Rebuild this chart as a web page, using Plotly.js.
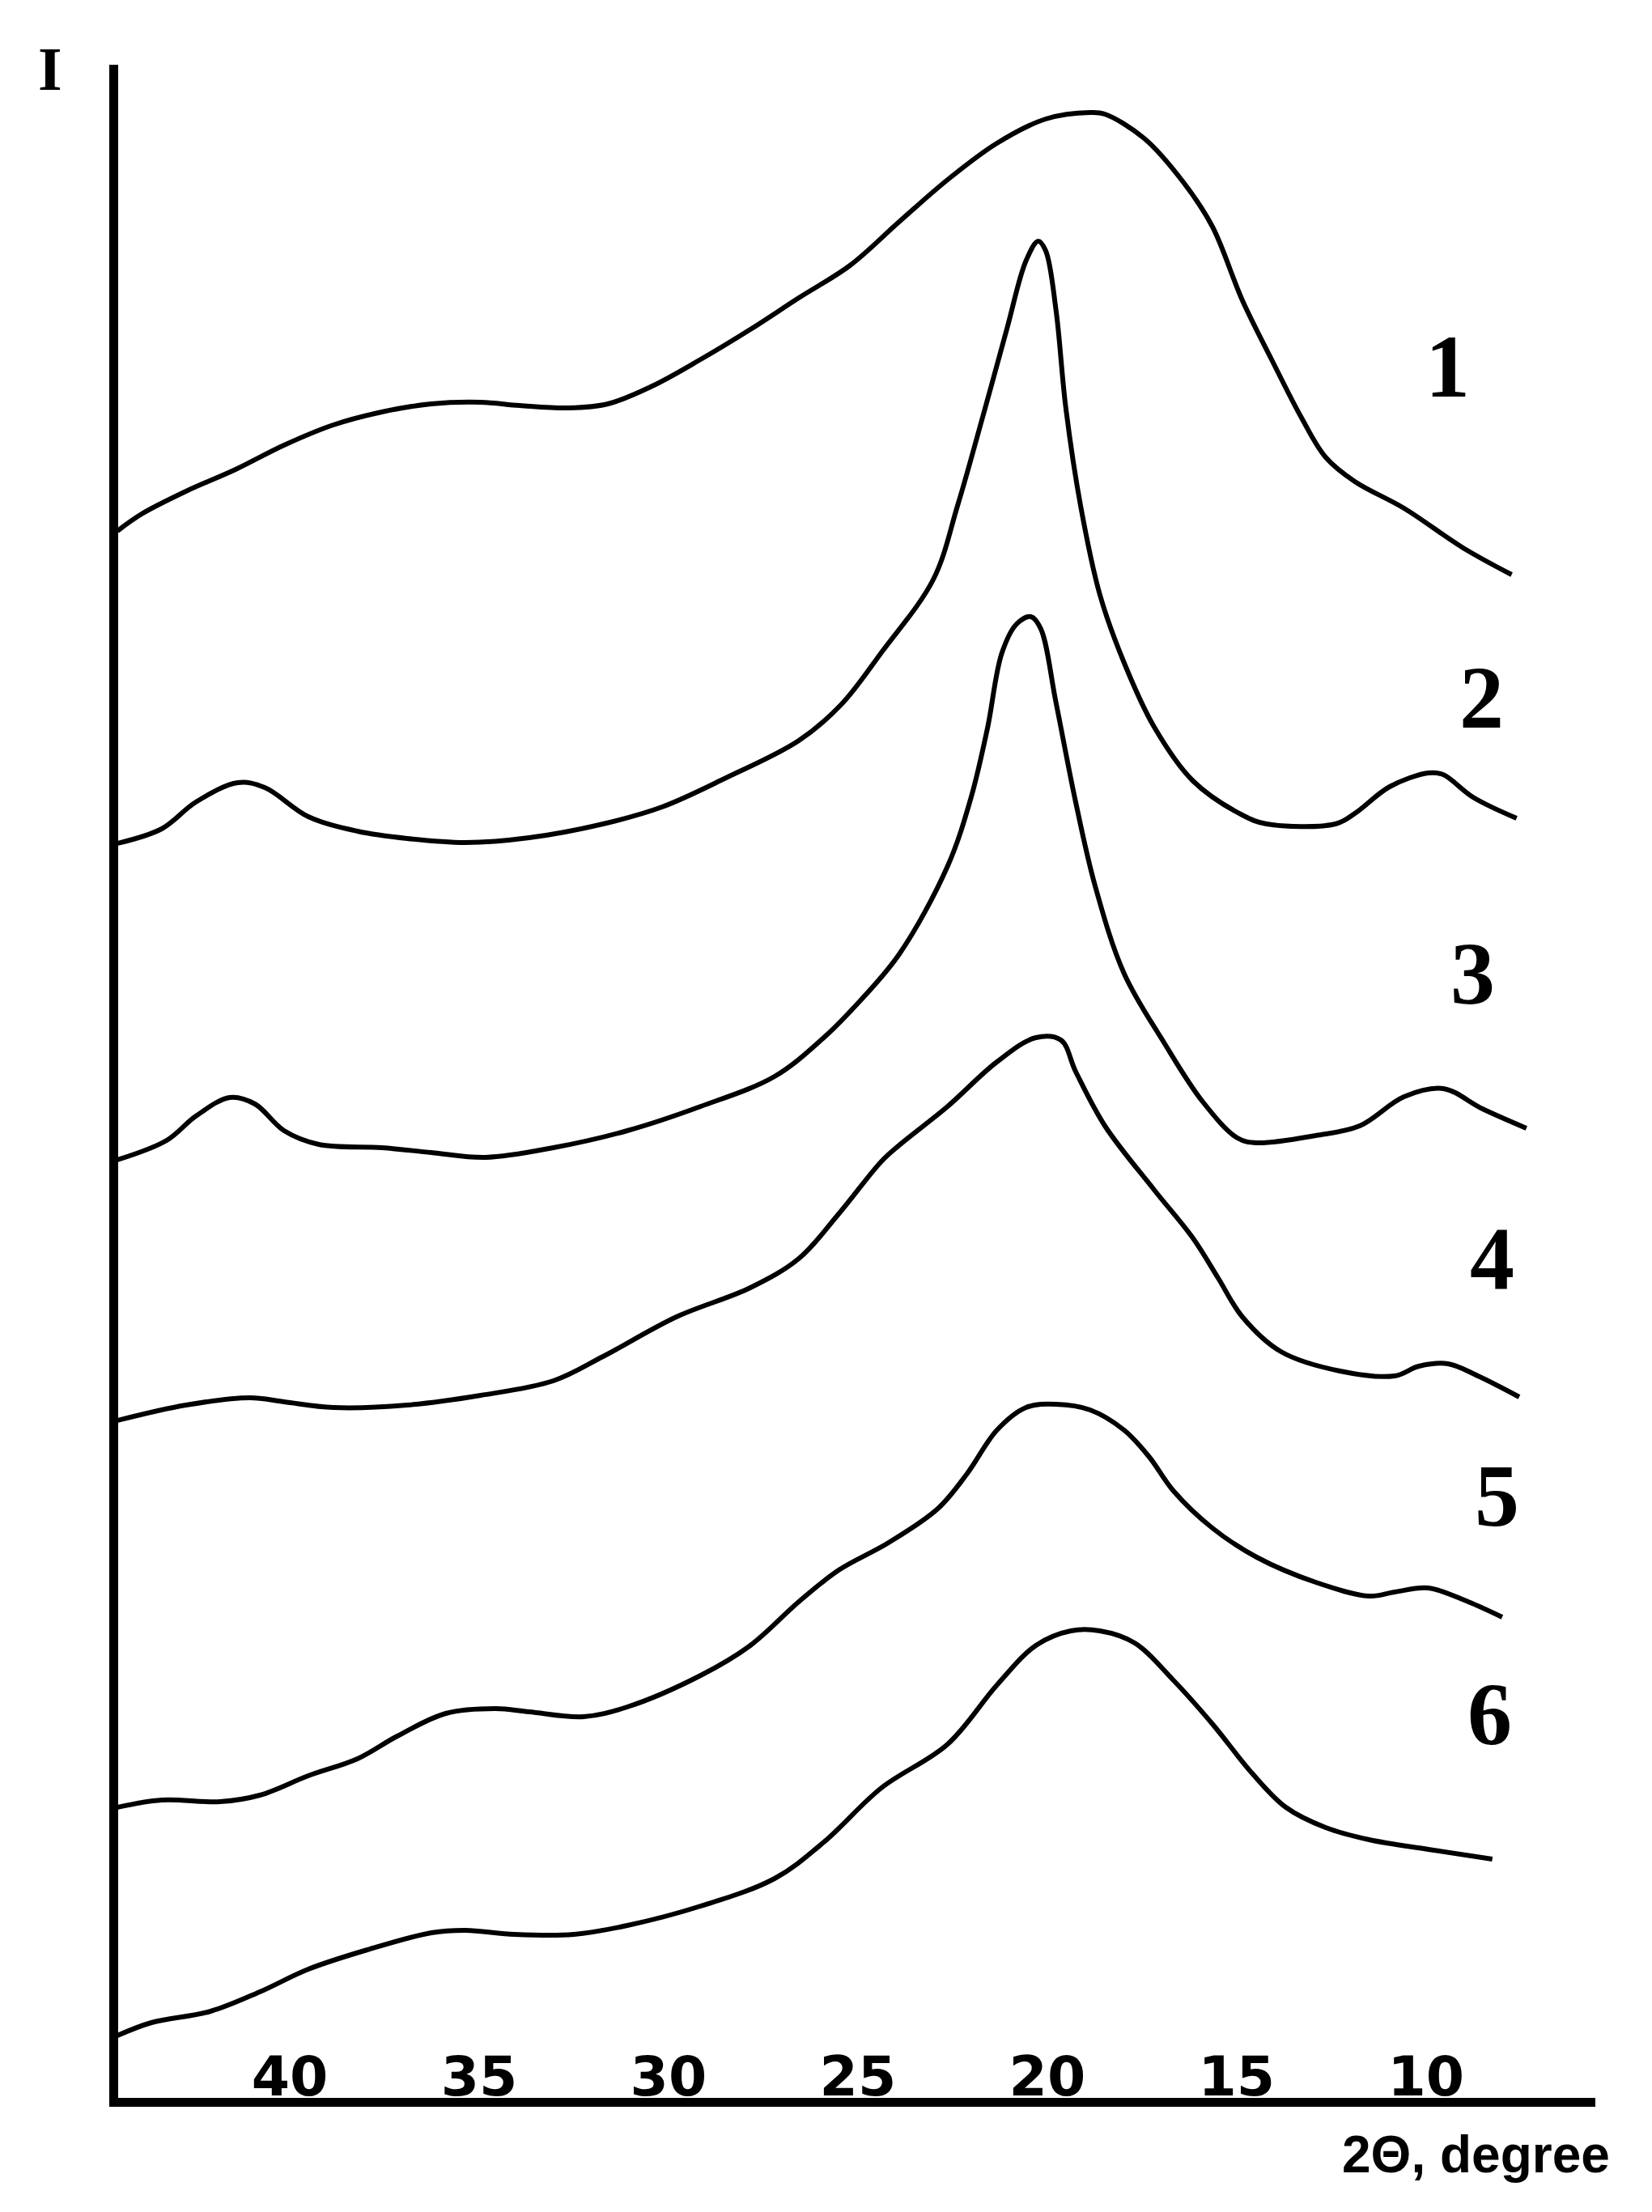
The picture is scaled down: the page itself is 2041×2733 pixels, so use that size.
<!DOCTYPE html>
<html>
<head>
<meta charset="utf-8">
<script src="https://cdn.plot.ly/plotly-3.0.1.min.js"></script>
<style>
  html, body { margin: 0; padding: 0; background: #fff; }
  #grafik { width: 2041px; height: 2733px; }
</style>
</head>
<body>
<div id="grafik"></div>
<script>
// 2theta (degree) and intensity (arbitrary units, curves stacked)
var sudut1 = [44.55, 43.91, 42.74, 41.43, 40.15, 38.85, 37.57, 36.26, 34.96, 33.93, 32.63, 31.60, 30.43, 29.15, 27.84, 26.56, 25.21, 23.91, 22.63, 21.33, 20.04, 18.87, 18.48, 17.44, 16.41, 15.64, 14.85, 14.08, 13.29, 12.65, 11.88, 10.58, 9.02, 7.74];
var kurva1 = [1941, 1962, 1990, 2017, 2047, 2072, 2088, 2098, 2100, 2096, 2093, 2098, 2120, 2153, 2190, 2229, 2269, 2323, 2375, 2420, 2450, 2458, 2456, 2426, 2372, 2317, 2226, 2153, 2081, 2032, 2002, 1969, 1920, 1887];

var sudut2 = [44.55, 43.38, 42.48, 41.37, 40.66, 39.51, 38.21, 36.90, 35.36, 33.68, 31.73, 30.17, 28.48, 26.56, 25.43, 24.36, 23.01, 22.37, 21.71, 21.07, 20.56, 20.24, 20.04, 19.77, 19.51, 19.12, 18.61, 17.97, 17.18, 16.15, 14.85, 14.21, 12.39, 11.88, 10.96, 9.94, 9.55, 8.76, 7.61];
var kurva2 = [1555, 1573, 1606, 1630, 1624, 1588, 1570, 1561, 1556, 1562, 1579, 1600, 1636, 1682, 1727, 1792, 1881, 1972, 2081, 2190, 2275, 2299, 2287, 2214, 2093, 1972, 1862, 1778, 1699, 1632, 1590, 1579, 1579, 1592, 1625, 1642, 1640, 1612, 1586];

var sudut3 = [44.55, 43.25, 42.48, 41.58, 40.92, 40.15, 39.23, 37.57, 36.26, 34.83, 33.04, 31.09, 29.15, 27.20, 25.90, 25.11, 23.91, 22.63, 22.01, 21.58, 21.20, 20.81, 20.43, 20.17, 19.77, 19.25, 18.74, 17.97, 16.92, 15.90, 14.98, 14.47, 12.91, 11.75, 10.58, 9.55, 8.51, 7.35];
var kurva3 = [1164, 1188, 1218, 1241, 1233, 1200, 1183, 1179, 1173, 1167, 1179, 1200, 1230, 1267, 1315, 1352, 1418, 1527, 1612, 1697, 1790, 1826, 1835, 1820, 1729, 1606, 1503, 1394, 1309, 1236, 1191, 1185, 1194, 1206, 1242, 1252, 1227, 1203];

var sudut4 = [44.55, 42.74, 41.05, 40.15, 38.85, 36.90, 34.96, 33.04, 31.73, 29.79, 27.84, 26.56, 25.51, 24.38, 23.91, 22.63, 21.33, 20.30, 19.64, 19.25, 18.48, 17.18, 16.15, 15.49, 14.85, 13.83, 12.27, 10.83, 10.19, 9.42, 8.63, 7.54];
var kurva4 = [842, 861, 870, 865, 858, 861, 873, 891, 921, 970, 1006, 1042, 1097, 1162, 1182, 1230, 1285, 1315, 1312, 1273, 1206, 1127, 1067, 1018, 970, 927, 903, 897, 909, 912, 897, 871];

var sudut5 = [44.55, 43.38, 41.84, 40.79, 39.51, 38.21, 37.16, 35.88, 34.57, 33.68, 32.24, 31.09, 29.15, 27.84, 26.56, 25.51, 24.19, 22.89, 22.12, 21.33, 20.56, 19.77, 18.87, 17.97, 17.31, 16.67, 15.64, 14.47, 12.91, 11.50, 10.83, 9.94, 8.89, 7.99];
var kurva5 = [364, 373, 371, 379, 403, 424, 452, 480, 486, 482, 476, 488, 527, 564, 618, 657, 691, 733, 776, 830, 858, 862, 855, 830, 797, 755, 709, 673, 642, 625, 630, 635, 618, 599];

var sudut6 = [44.55, 43.65, 42.09, 40.79, 39.51, 37.95, 36.26, 35.36, 34.06, 32.50, 31.09, 29.15, 27.20, 25.90, 24.38, 22.63, 21.33, 20.30, 19.38, 18.61, 17.69, 16.67, 15.64, 14.59, 13.70, 12.65, 11.50, 9.94, 8.25];
var kurva6 = [82, 98, 112, 136, 164, 188, 209, 212, 207, 207, 218, 242, 276, 321, 388, 442, 515, 564, 582, 582, 567, 521, 467, 406, 364, 339, 324, 312, 300];

var namaKurva = ["1", "2", "3", "4", "5", "6"];
var tickSudut = [40, 35, 30, 25, 20, 15, 10];

var semuaSudut = [sudut1, sudut2, sudut3, sudut4, sudut5, sudut6];
var semuaKurva = [kurva1, kurva2, kurva3, kurva4, kurva5, kurva6];

var dataGaris = semuaKurva.map(function (item, index) {
  return {
    x: semuaSudut[index],
    y: item,
    type: "scatter",
    mode: "lines",
    name: namaKurva[index],
    line: { color: "#000", width: 6, shape: "spline", smoothing: 1 },
    hoverinfo: "none",
  };
});

// label posisi tiap kurva (di sebelah kanan)
var posisiLabel = [
  [9.42, 2144],
  [8.53, 1735],
  [8.76, 1394],
  [8.25, 1042],
  [8.12, 749],
  [8.31, 479],
];

var anotasi = namaKurva.map(function (teks, index) {
  return {
    x: posisiLabel[index][0],
    y: posisiLabel[index][1],
    text: teks,
    showarrow: false,
    xanchor: "center",
    yanchor: "middle",
    font: { family: "Liberation Serif, Times New Roman, serif", size: 110, color: "#000", weight: "bold" },
  };
});

anotasi.push({
  xref: "paper", yref: "paper",
  x: -0.046, y: 0.998,
  text: "I",
  showarrow: false,
  xanchor: "center", yanchor: "middle",
  font: { family: "Liberation Serif, Times New Roman, serif", size: 76, color: "#000", weight: "bold" },
});

anotasi.push({
  xref: "paper", yref: "paper",
  x: 1.011, y: -0.028,
  text: "2\u0398, degree",
  showarrow: false,
  xanchor: "right", yanchor: "middle",
  font: { family: "Liberation Sans, Arial, sans-serif", size: 64, color: "#000", weight: "bold" },
});

var tampilan = {
  width: 2041,
  height: 2733,
  margin: { l: 146, r: 70, t: 80, b: 141 },
  paper_bgcolor: "#fff",
  plot_bgcolor: "#fff",
  showlegend: false,
  xaxis: {
    range: [44.53, 5.53],
    showgrid: false,
    zeroline: false,
    showline: true,
    linecolor: "#000",
    linewidth: 11,
    ticks: "",
    tickmode: "array",
    tickvals: tickSudut,
    ticktext: tickSudut.map(String),
    ticklabelposition: "inside",
    tickfont: { family: "DejaVu Sans, Arial, sans-serif", size: 68, color: "#000", weight: "bold" },
  },
  yaxis: {
    range: [5, 2517],
    showgrid: false,
    zeroline: false,
    showline: true,
    linecolor: "#000",
    linewidth: 11,
    ticks: "",
    showticklabels: false,
  },
  annotations: anotasi,
};

Plotly.newPlot("grafik", dataGaris, tampilan, { staticPlot: true });
</script>
</body>
</html>
